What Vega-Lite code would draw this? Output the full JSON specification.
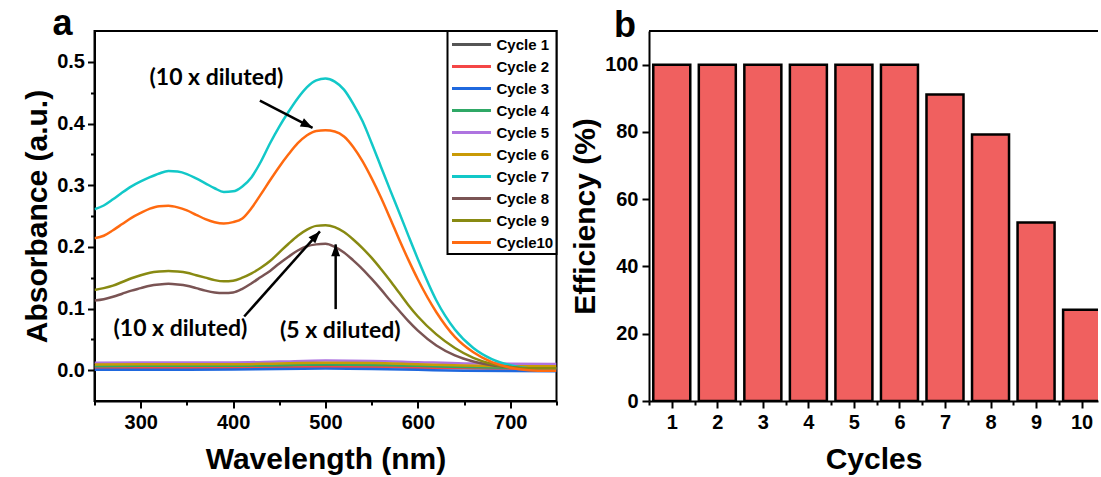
{
  "$schema": "https://vega.github.io/schema/vega-lite/v6.json",
  "padding": {"left": 21.5, "top": 5, "right": 0, "bottom": 0},
  "spacing": 11.5,
  "resolve": {"scale": {"color": "independent"}, "legend": {"color": "independent"}},
  "config": {
    "font": "Liberation Sans",
    "view": {"stroke": "black", "strokeWidth": 2},
    "axis": {"domainColor": "black", "domainWidth": 2, "tickColor": "black", "tickWidth": 2, "labelFont": "Liberation Sans", "labelFontWeight": "bold", "labelFontSize": 20, "labelColor": "black", "titleFont": "Liberation Sans", "titleFontWeight": "bold", "titleFontSize": 30, "titleColor": "black", "grid": false}
  },
  "datasets": {
    "spectra": [
      {"c":"Cycle 1","w":250,"a":0.005},{"c":"Cycle 1","w":300,"a":0.0055},{"c":"Cycle 1","w":350,"a":0.0055},{"c":"Cycle 1","w":400,"a":0.0055},{"c":"Cycle 1","w":450,"a":0.006},{"c":"Cycle 1","w":500,"a":0.007},{"c":"Cycle 1","w":550,"a":0.0065},{"c":"Cycle 1","w":600,"a":0.005},{"c":"Cycle 1","w":650,"a":0.004},{"c":"Cycle 1","w":700,"a":0.003},{"c":"Cycle 1","w":750,"a":0.003},
      {"c":"Cycle 2","w":250,"a":0.004},{"c":"Cycle 2","w":300,"a":0.004},{"c":"Cycle 2","w":350,"a":0.004},{"c":"Cycle 2","w":400,"a":0.004},{"c":"Cycle 2","w":450,"a":0.0045},{"c":"Cycle 2","w":500,"a":0.005},{"c":"Cycle 2","w":550,"a":0.005},{"c":"Cycle 2","w":600,"a":0.004},{"c":"Cycle 2","w":650,"a":0.003},{"c":"Cycle 2","w":700,"a":0.0027},{"c":"Cycle 2","w":750,"a":0.0027},
      {"c":"Cycle 3","w":250,"a":0.0005},{"c":"Cycle 3","w":300,"a":0.0005},{"c":"Cycle 3","w":350,"a":0.0005},{"c":"Cycle 3","w":400,"a":0.001},{"c":"Cycle 3","w":450,"a":0.002},{"c":"Cycle 3","w":500,"a":0.0025},{"c":"Cycle 3","w":550,"a":0.002},{"c":"Cycle 3","w":600,"a":0.0005},{"c":"Cycle 3","w":650,"a":-0.001},{"c":"Cycle 3","w":700,"a":-0.0015},{"c":"Cycle 3","w":750,"a":-0.0016},
      {"c":"Cycle 4","w":250,"a":0.0065},{"c":"Cycle 4","w":300,"a":0.007},{"c":"Cycle 4","w":350,"a":0.007},{"c":"Cycle 4","w":400,"a":0.007},{"c":"Cycle 4","w":450,"a":0.008},{"c":"Cycle 4","w":500,"a":0.009},{"c":"Cycle 4","w":550,"a":0.0085},{"c":"Cycle 4","w":600,"a":0.007},{"c":"Cycle 4","w":650,"a":0.005},{"c":"Cycle 4","w":700,"a":0.004},{"c":"Cycle 4","w":750,"a":0.004},
      {"c":"Cycle 5","w":250,"a":0.012},{"c":"Cycle 5","w":300,"a":0.0125},{"c":"Cycle 5","w":350,"a":0.0125},{"c":"Cycle 5","w":400,"a":0.0125},{"c":"Cycle 5","w":450,"a":0.014},{"c":"Cycle 5","w":500,"a":0.0155},{"c":"Cycle 5","w":550,"a":0.015},{"c":"Cycle 5","w":600,"a":0.013},{"c":"Cycle 5","w":650,"a":0.011},{"c":"Cycle 5","w":700,"a":0.0105},{"c":"Cycle 5","w":750,"a":0.01},
      {"c":"Cycle 6","w":250,"a":0.009},{"c":"Cycle 6","w":300,"a":0.0095},{"c":"Cycle 6","w":350,"a":0.0095},{"c":"Cycle 6","w":400,"a":0.0095},{"c":"Cycle 6","w":450,"a":0.011},{"c":"Cycle 6","w":500,"a":0.012},{"c":"Cycle 6","w":550,"a":0.0115},{"c":"Cycle 6","w":600,"a":0.0095},{"c":"Cycle 6","w":650,"a":0.0075},{"c":"Cycle 6","w":700,"a":0.0065},{"c":"Cycle 6","w":750,"a":0.0065},
      {"c":"Cycle 7","w":250,"a":0.261},{"c":"Cycle 7","w":260,"a":0.267},{"c":"Cycle 7","w":270,"a":0.277},{"c":"Cycle 7","w":280,"a":0.288},{"c":"Cycle 7","w":290,"a":0.298},{"c":"Cycle 7","w":300,"a":0.306},{"c":"Cycle 7","w":310,"a":0.313},{"c":"Cycle 7","w":320,"a":0.319},{"c":"Cycle 7","w":330,"a":0.323},{"c":"Cycle 7","w":340,"a":0.322},{"c":"Cycle 7","w":350,"a":0.318},{"c":"Cycle 7","w":360,"a":0.311},{"c":"Cycle 7","w":370,"a":0.303},{"c":"Cycle 7","w":380,"a":0.295},{"c":"Cycle 7","w":390,"a":0.289},{"c":"Cycle 7","w":400,"a":0.29},{"c":"Cycle 7","w":410,"a":0.298},{"c":"Cycle 7","w":420,"a":0.313},{"c":"Cycle 7","w":430,"a":0.338},{"c":"Cycle 7","w":440,"a":0.368},{"c":"Cycle 7","w":450,"a":0.395},{"c":"Cycle 7","w":460,"a":0.419},{"c":"Cycle 7","w":470,"a":0.441},{"c":"Cycle 7","w":480,"a":0.459},{"c":"Cycle 7","w":490,"a":0.47},{"c":"Cycle 7","w":500,"a":0.473},{"c":"Cycle 7","w":510,"a":0.468},{"c":"Cycle 7","w":520,"a":0.455},{"c":"Cycle 7","w":530,"a":0.432},{"c":"Cycle 7","w":540,"a":0.404},{"c":"Cycle 7","w":550,"a":0.368},{"c":"Cycle 7","w":560,"a":0.33},{"c":"Cycle 7","w":570,"a":0.292},{"c":"Cycle 7","w":580,"a":0.255},{"c":"Cycle 7","w":590,"a":0.217},{"c":"Cycle 7","w":600,"a":0.18},{"c":"Cycle 7","w":620,"a":0.113},{"c":"Cycle 7","w":640,"a":0.066},{"c":"Cycle 7","w":660,"a":0.036},{"c":"Cycle 7","w":680,"a":0.018},{"c":"Cycle 7","w":700,"a":0.008},{"c":"Cycle 7","w":720,"a":0.003},{"c":"Cycle 7","w":740,"a":0.002},{"c":"Cycle 7","w":750,"a":0.002},
      {"c":"Cycle 8","w":250,"a":0.113},{"c":"Cycle 8","w":260,"a":0.115},{"c":"Cycle 8","w":270,"a":0.119},{"c":"Cycle 8","w":280,"a":0.124},{"c":"Cycle 8","w":290,"a":0.129},{"c":"Cycle 8","w":300,"a":0.133},{"c":"Cycle 8","w":310,"a":0.137},{"c":"Cycle 8","w":320,"a":0.139},{"c":"Cycle 8","w":330,"a":0.14},{"c":"Cycle 8","w":340,"a":0.139},{"c":"Cycle 8","w":350,"a":0.137},{"c":"Cycle 8","w":360,"a":0.133},{"c":"Cycle 8","w":370,"a":0.129},{"c":"Cycle 8","w":380,"a":0.126},{"c":"Cycle 8","w":390,"a":0.125},{"c":"Cycle 8","w":400,"a":0.126},{"c":"Cycle 8","w":410,"a":0.132},{"c":"Cycle 8","w":420,"a":0.141},{"c":"Cycle 8","w":430,"a":0.151},{"c":"Cycle 8","w":440,"a":0.161},{"c":"Cycle 8","w":450,"a":0.173},{"c":"Cycle 8","w":460,"a":0.184},{"c":"Cycle 8","w":470,"a":0.194},{"c":"Cycle 8","w":480,"a":0.201},{"c":"Cycle 8","w":490,"a":0.204},{"c":"Cycle 8","w":500,"a":0.205},{"c":"Cycle 8","w":510,"a":0.2},{"c":"Cycle 8","w":520,"a":0.191},{"c":"Cycle 8","w":530,"a":0.178},{"c":"Cycle 8","w":540,"a":0.164},{"c":"Cycle 8","w":550,"a":0.148},{"c":"Cycle 8","w":560,"a":0.131},{"c":"Cycle 8","w":570,"a":0.113},{"c":"Cycle 8","w":580,"a":0.096},{"c":"Cycle 8","w":590,"a":0.079},{"c":"Cycle 8","w":600,"a":0.064},{"c":"Cycle 8","w":620,"a":0.04},{"c":"Cycle 8","w":640,"a":0.024},{"c":"Cycle 8","w":660,"a":0.014},{"c":"Cycle 8","w":680,"a":0.008},{"c":"Cycle 8","w":700,"a":0.005},{"c":"Cycle 8","w":720,"a":0.003},{"c":"Cycle 8","w":740,"a":0.003},{"c":"Cycle 8","w":750,"a":0.003},
      {"c":"Cycle 9","w":250,"a":0.13},{"c":"Cycle 9","w":260,"a":0.133},{"c":"Cycle 9","w":270,"a":0.137},{"c":"Cycle 9","w":280,"a":0.143},{"c":"Cycle 9","w":290,"a":0.149},{"c":"Cycle 9","w":300,"a":0.154},{"c":"Cycle 9","w":310,"a":0.158},{"c":"Cycle 9","w":320,"a":0.16},{"c":"Cycle 9","w":330,"a":0.161},{"c":"Cycle 9","w":340,"a":0.16},{"c":"Cycle 9","w":350,"a":0.158},{"c":"Cycle 9","w":360,"a":0.154},{"c":"Cycle 9","w":370,"a":0.15},{"c":"Cycle 9","w":380,"a":0.146},{"c":"Cycle 9","w":390,"a":0.144},{"c":"Cycle 9","w":400,"a":0.145},{"c":"Cycle 9","w":410,"a":0.15},{"c":"Cycle 9","w":420,"a":0.157},{"c":"Cycle 9","w":430,"a":0.166},{"c":"Cycle 9","w":440,"a":0.177},{"c":"Cycle 9","w":450,"a":0.191},{"c":"Cycle 9","w":460,"a":0.205},{"c":"Cycle 9","w":470,"a":0.218},{"c":"Cycle 9","w":480,"a":0.228},{"c":"Cycle 9","w":490,"a":0.234},{"c":"Cycle 9","w":500,"a":0.235},{"c":"Cycle 9","w":510,"a":0.232},{"c":"Cycle 9","w":520,"a":0.224},{"c":"Cycle 9","w":530,"a":0.212},{"c":"Cycle 9","w":540,"a":0.198},{"c":"Cycle 9","w":550,"a":0.182},{"c":"Cycle 9","w":560,"a":0.164},{"c":"Cycle 9","w":570,"a":0.145},{"c":"Cycle 9","w":580,"a":0.125},{"c":"Cycle 9","w":590,"a":0.105},{"c":"Cycle 9","w":600,"a":0.087},{"c":"Cycle 9","w":620,"a":0.058},{"c":"Cycle 9","w":640,"a":0.036},{"c":"Cycle 9","w":660,"a":0.02},{"c":"Cycle 9","w":680,"a":0.01},{"c":"Cycle 9","w":700,"a":0.005},{"c":"Cycle 9","w":720,"a":0.003},{"c":"Cycle 9","w":740,"a":0.003},{"c":"Cycle 9","w":750,"a":0.003},
      {"c":"Cycle10","w":250,"a":0.214},{"c":"Cycle10","w":260,"a":0.218},{"c":"Cycle10","w":270,"a":0.227},{"c":"Cycle10","w":280,"a":0.237},{"c":"Cycle10","w":290,"a":0.247},{"c":"Cycle10","w":300,"a":0.255},{"c":"Cycle10","w":310,"a":0.262},{"c":"Cycle10","w":320,"a":0.266},{"c":"Cycle10","w":330,"a":0.2665},{"c":"Cycle10","w":340,"a":0.264},{"c":"Cycle10","w":350,"a":0.259},{"c":"Cycle10","w":360,"a":0.252},{"c":"Cycle10","w":370,"a":0.245},{"c":"Cycle10","w":380,"a":0.24},{"c":"Cycle10","w":390,"a":0.238},{"c":"Cycle10","w":400,"a":0.24},{"c":"Cycle10","w":410,"a":0.246},{"c":"Cycle10","w":420,"a":0.263},{"c":"Cycle10","w":430,"a":0.285},{"c":"Cycle10","w":440,"a":0.308},{"c":"Cycle10","w":450,"a":0.33},{"c":"Cycle10","w":460,"a":0.35},{"c":"Cycle10","w":470,"a":0.368},{"c":"Cycle10","w":480,"a":0.381},{"c":"Cycle10","w":490,"a":0.388},{"c":"Cycle10","w":500,"a":0.389},{"c":"Cycle10","w":510,"a":0.387},{"c":"Cycle10","w":520,"a":0.379},{"c":"Cycle10","w":530,"a":0.362},{"c":"Cycle10","w":540,"a":0.339},{"c":"Cycle10","w":550,"a":0.311},{"c":"Cycle10","w":560,"a":0.28},{"c":"Cycle10","w":570,"a":0.246},{"c":"Cycle10","w":580,"a":0.211},{"c":"Cycle10","w":590,"a":0.178},{"c":"Cycle10","w":600,"a":0.147},{"c":"Cycle10","w":620,"a":0.094},{"c":"Cycle10","w":640,"a":0.054},{"c":"Cycle10","w":660,"a":0.029},{"c":"Cycle10","w":680,"a":0.013},{"c":"Cycle10","w":700,"a":0.004},{"c":"Cycle10","w":720,"a":0.0},{"c":"Cycle10","w":740,"a":-0.001},{"c":"Cycle10","w":750,"a":-0.001}
    ],
    "labels": [
      {"w": 382, "a": 0.474, "text": "(10 x diluted)"},
      {"w": 343, "a": 0.066, "text": "(10 x diluted)"},
      {"w": 516, "a": 0.064, "text": "(5 x diluted)"}
    ],
    "arrows": [
      {"id": 1, "w1": 429, "a1": 0.437, "w2": 486, "a2": 0.393},
      {"id": 2, "w1": 412, "a1": 0.087, "w2": 494, "a2": 0.225},
      {"id": 3, "w1": 511, "a1": 0.099, "w2": 511, "a2": 0.204}
    ],
    "eff": [
      {"cycle": 1, "eff": 100}, {"cycle": 2, "eff": 100}, {"cycle": 3, "eff": 100}, {"cycle": 4, "eff": 100}, {"cycle": 5, "eff": 100},
      {"cycle": 6, "eff": 100}, {"cycle": 7, "eff": 91.1}, {"cycle": 8, "eff": 79.2}, {"cycle": 9, "eff": 53.1}, {"cycle": 10, "eff": 27.1}
    ]
  },
  "hconcat": [
    {
      "width": 462,
      "height": 370,
      "title": {"text": "a", "anchor": "start", "frame": "group", "font": "Liberation Sans", "fontSize": 36, "fontWeight": "bold", "color": "black", "dx": -42, "baseline": "alphabetic", "offset": -41},
      "resolve": {"axis": {"y": "independent"}},
      "layer": [
        {
          "data": {"name": "spectra"},
          "mark": {"type": "line", "strokeWidth": 2.5, "interpolate": "monotone", "clip": true},
          "encoding": {
            "x": {"field": "w", "type": "quantitative", "title": "Wavelength (nm)",
              "scale": {"domain": [250, 750], "nice": false, "zero": false},
              "axis": {"values": [250,300,350,400,450,500,550,600,650,700,750], "format": "d", "labelExpr": "datum.value % 100 == 0 ? datum.label : ''", "tickSize": {"condition": {"test": "datum.value % 100 != 0", "value": 4}, "value": 7}, "labelPadding": 4, "titlePadding": 12, "labelFlush": false, "labelOverlap": false}},
            "y": {"field": "a", "type": "quantitative", "title": "Absorbance (a.u.)",
              "scale": {"domain": [-0.05, 0.55], "nice": false, "zero": false},
              "axis": {"orient": "left", "values": [0, 0.1, 0.2, 0.3, 0.4, 0.5], "format": ".1f", "tickSize": 7, "labelPadding": 3, "titlePadding": 4, "labelFlush": false, "labelOverlap": false}},
            "color": {"field": "c", "type": "nominal",
              "scale": {"domain": ["Cycle 1","Cycle 2","Cycle 3","Cycle 4","Cycle 5","Cycle 6","Cycle 7","Cycle 8","Cycle 9","Cycle10"],
                        "range": ["#555555","#F44646","#1F68DE","#2FA866","#AE74E0","#C99A06","#12C8C8","#7A5454","#888A12","#FF6A10"]},
              "legend": {"title": null, "orient": "top-right", "offset": 0, "padding": 3, "rowPadding": 3, "strokeColor": "black", "fillColor": "white", "symbolType": "M-1,0H3.33", "symbolSize": 324, "symbolStrokeWidth": 3, "labelFont": "Liberation Sans", "labelFontWeight": "bold", "labelFontSize": 15, "labelOffset": 25, "labelColor": "black",
                "encode": {"legend": {"update": {"strokeWidth": {"value": 2}}}}}}
          }
        },
        {
          "data": {"name": "arrows"},
          "mark": {"type": "rule", "strokeWidth": 2.5, "color": "black"},
          "encoding": {
            "x": {"field": "w1", "type": "quantitative"},
            "y": {"field": "a1", "type": "quantitative", "axis": null},
            "x2": {"field": "w2"},
            "y2": {"field": "a2"}
          }
        },
        {
          "data": {"name": "arrows"},
          "transform": [{"filter": "datum.id == 1"}],
          "mark": {"type": "point", "shape": "M0,0L-0.9,2.4L0.9,2.4Z", "size": 100, "filled": true, "color": "black", "opacity": 1, "angle": 117},
          "encoding": {"x": {"field": "w2", "type": "quantitative"}, "y": {"field": "a2", "type": "quantitative", "axis": null}}
        },
        {
          "data": {"name": "arrows"},
          "transform": [{"filter": "datum.id == 2"}],
          "mark": {"type": "point", "shape": "M0,0L-0.9,2.4L0.9,2.4Z", "size": 100, "filled": true, "color": "black", "opacity": 1, "angle": 42},
          "encoding": {"x": {"field": "w2", "type": "quantitative"}, "y": {"field": "a2", "type": "quantitative", "axis": null}}
        },
        {
          "data": {"name": "arrows"},
          "transform": [{"filter": "datum.id == 3"}],
          "mark": {"type": "point", "shape": "M0,0L-0.9,2.4L0.9,2.4Z", "size": 100, "filled": true, "color": "black", "opacity": 1, "angle": 0},
          "encoding": {"x": {"field": "w2", "type": "quantitative"}, "y": {"field": "a2", "type": "quantitative", "axis": null}}
        },
        {
          "data": {"name": "labels"},
          "mark": {"type": "text", "font": "Lato", "fontWeight": "bold", "fontSize": 23, "color": "black", "align": "center", "baseline": "middle"},
          "encoding": {
            "x": {"field": "w", "type": "quantitative"},
            "y": {"field": "a", "type": "quantitative",
              "axis": {"orient": "left", "values": [0.05, 0.15, 0.25, 0.35, 0.45], "labels": false, "domain": false, "title": null, "tickSize": 4, "grid": false}},
            "text": {"field": "text"}
          }
        }
      ]
    },
    {
      "width": 449,
      "height": 370,
      "view": {"stroke": null},
      "title": {"text": "b", "anchor": "start", "frame": "group", "font": "Liberation Sans", "fontSize": 36, "fontWeight": "bold", "color": "black", "dx": -35, "baseline": "alphabetic", "offset": -43},
      "layer": [
        {
          "data": {"name": "eff"},
          "mark": {"type": "bar", "size": 37, "color": "#F0605F", "stroke": "black", "strokeWidth": 2.5, "clip": true},
          "encoding": {
            "x": {"field": "cycle", "type": "quantitative", "title": "Cycles",
              "scale": {"domain": [0.5, 10.36], "nice": false, "zero": false, "padding": 0},
              "axis": {"values": [0.5,1,1.5,2,2.5,3,3.5,4,4.5,5,5.5,6,6.5,7,7.5,8,8.5,9,9.5,10], "labelExpr": "datum.value % 1 == 0 ? '' + datum.value : ''", "tickSize": {"condition": {"test": "datum.value % 1 != 0", "value": 4}, "value": 7}, "labelPadding": 4, "titlePadding": 12, "labelFlush": false, "labelOverlap": false}},
            "y": {"field": "eff", "type": "quantitative", "title": "Efficiency (%)",
              "scale": {"domain": [0, 110], "nice": false, "padding": 0},
              "axis": {"values": [0,10,20,30,40,50,60,70,80,90,100], "format": "d", "labelExpr": "datum.value % 20 == 0 ? datum.label : ''", "tickSize": {"condition": {"test": "datum.value % 20 != 0", "value": 4}, "value": 7}, "labelPadding": 4, "titlePadding": 4, "labelFlush": false, "labelOverlap": false}}
          }
        },
        {
          "data": {"values": [{}]},
          "mark": {"type": "rule", "strokeWidth": 2, "color": "black"},
          "encoding": {"y": {"datum": 110}}
        }
      ]
    }
  ]
}
